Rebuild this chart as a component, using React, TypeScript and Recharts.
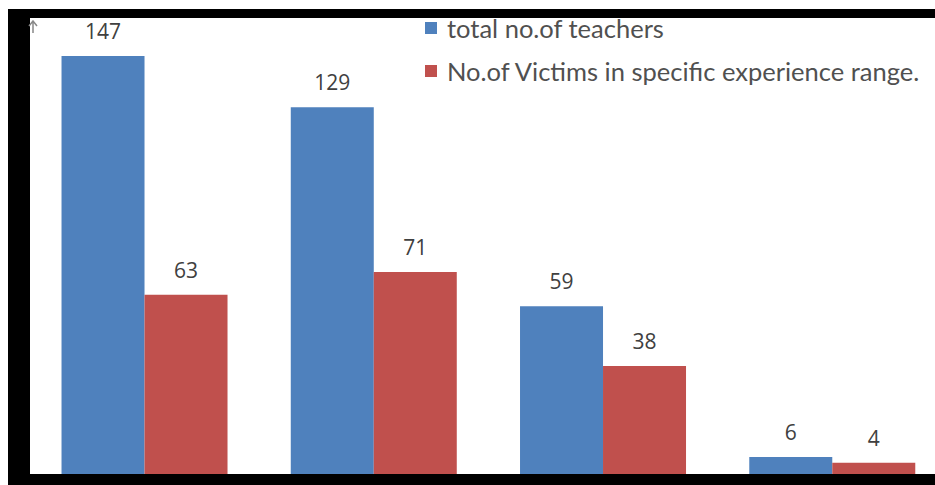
import { Bar, BarChart, LabelList, XAxis, YAxis } from "recharts";

const ranges = ["0-5 years", "6-10 years", "11-20 years", "above 20 years"];
const teachers = [147, 129, 59, 6];
const victims = [63, 71, 38, 4];
const seriesNames = ["total no.of teachers", "No.of Victims in specific experience range."];

const BLUE = "#4F81BD";
const RED = "#C0504D";
const FONT = "'Open Sans', 'Liberation Sans', sans-serif";

const data = ranges.map((r, i) => ({ range: r, teachers: teachers[i], victims: victims[i] }));

function LegendBox() {
  const items = [
    { name: seriesNames[0], color: BLUE },
    { name: seriesNames[1], color: RED },
  ];
  return (
    <div style={{ fontFamily: "Lato, " + FONT, fontSize: 25.5, color: "#505050" }}>
      {items.map((it) => (
        <div key={it.name} style={{ display: "flex", alignItems: "center", height: 43 }}>
          <span style={{ width: 12, height: 12, background: it.color, marginRight: 10 }} />
          <span>{it.name}</span>
        </div>
      ))}
    </div>
  );
}

export default function App() {
  return (
    <div
      style={{
        position: "absolute",
        left: 0,
        top: 0,
        width: 935,
        height: 485,
        overflow: "hidden",
        background: "#fff",
      }}
    >
      <BarChart
        width={950}
        height={485}
        data={data}
        margin={{ top: 19, right: 3, bottom: 11, left: 30 }}
        barCategoryGap="13.75%"
        barGap={0}
      >
        <XAxis dataKey="range" hide />
        <YAxis hide domain={[0, 160]} />
        <Bar dataKey="teachers" name={seriesNames[0]} fill={BLUE} isAnimationActive={false}>
          <LabelList dataKey="teachers" position="top" offset={17} fill="#404040" fontSize={21} fontFamily={FONT} />
        </Bar>
        <Bar dataKey="victims" name={seriesNames[1]} fill={RED} isAnimationActive={false}>
          <LabelList dataKey="victims" position="top" offset={17} fill="#404040" fontSize={21} fontFamily={FONT} />
        </Bar>
      </BarChart>
      <div style={{ position: "absolute", left: 425, top: 6 }}>
        <LegendBox />
      </div>
      {/* dark frame seen in the scan */}
      <div style={{ position: "absolute", left: 8, top: 9, width: 927, height: 9, background: "#000" }} />
      <div style={{ position: "absolute", left: 8, top: 9, width: 22, height: 476, background: "#000" }} />
      <div style={{ position: "absolute", left: 8, top: 474, width: 927, height: 11, background: "#000" }} />
      <svg style={{ position: "absolute", left: 27, top: 20 }} width={12} height={14}>
        <path d="M6 1 L6 13 M2 6 L6 1 L10 6" stroke="#888" strokeWidth={1.5} fill="none" />
      </svg>
    </div>
  );
}
